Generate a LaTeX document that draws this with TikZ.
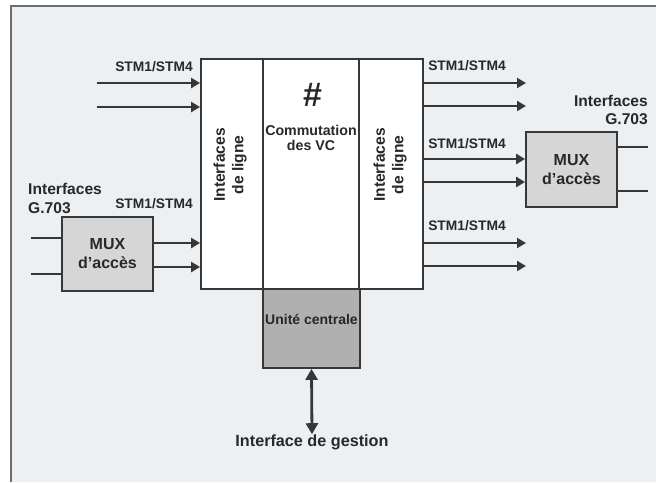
\documentclass[tikz,border=0pt]{standalone}
\usepackage{fontspec}
\setmainfont{Liberation Sans}
\usetikzlibrary{arrows.meta}
\definecolor{bgc}{RGB}{236,240,243}
\definecolor{linec}{RGB}{55,55,55}
\definecolor{muxc}{RGB}{214,214,214}
\definecolor{ucc}{RGB}{176,176,176}
\definecolor{txtc}{RGB}{40,40,40}
\definecolor{framec}{RGB}{110,110,110}
\tikzset{
  blk/.style={draw=linec, line width=1.8pt, inner sep=0pt, anchor=center},
  col/.style={blk, fill=white, minimum height=230pt},
  muxbox/.style={blk, fill=muxc, minimum width=91pt, minimum height=74pt, align=center, font=\fontsize{16}{19}\selectfont\bfseries, text=txtc},
  lbl/.style={text=txtc, inner sep=0pt, font=\fontsize{13.8}{15}\selectfont\bfseries},
  biglbl/.style={text=txtc, inner sep=0pt, font=\fontsize{15.6}{18}\selectfont\bfseries, align=left},
  sig/.style={draw=linec, line width=2.8pt, -{Triangle[length=9pt,width=10pt]}},
  plain/.style={draw=linec, line width=2.8pt},
}
\begin{document}
\begin{tikzpicture}[x=1pt,y=-1pt]
\useasboundingbox (0,0) rectangle (656,482);
\fill[white] (0,0) rectangle (656,482);
\fill[bgc] (11,6) rectangle (656,482);
\draw[framec, line width=1.6pt] (11,482) -- (11,6) -- (656,6);

% main block
\node[col, minimum width=62pt] (lcol) at (232,174) {};
\node[col, minimum width=96pt] (mid) at (311,174) {};
\node[col, minimum width=64pt] (rcol) at (391,174) {};
\node[rotate=90, align=center, text=txtc, inner sep=0pt, font=\fontsize{15.6}{18.5}\selectfont\bfseries] (lt) at (230,165) {Interfaces\\de ligne};
\node[rotate=90, align=center, text=txtc, inner sep=0pt, font=\fontsize{15.6}{18.5}\selectfont\bfseries] (rt) at (390,165) {Interfaces\\de ligne};
\node[text=txtc, inner sep=0pt, font=\fontsize{34}{34}\selectfont\bfseries\itshape] (hash) at (312,95) {\#};
\node[text=txtc, inner sep=0pt, align=center, font=\fontsize{14.2}{15.5}\selectfont\bfseries] (comm) at (311,138) {Commutation\\des VC};

% central unit
\node[blk, fill=ucc, minimum width=97pt, minimum height=79pt] (uc) at (311.5,328.5) {};
\node[text=txtc, inner sep=0pt, font=\fontsize{14}{15}\selectfont\bfseries] (uct) at (311.5,319) {Unité centrale};
\node[biglbl, font=\fontsize{16.2}{18}\selectfont\bfseries] (gest) at (312,442) {Interface de gestion};
\draw[draw=linec, line width=2.8pt, {Triangle[length=11pt,width=12pt]}-{Triangle[length=11pt,width=12pt]}] (uc.south) -- (gest.north);

% left MUX
\node[muxbox] (lmux) at (107.5,254) {MUX\\d’accès};
\node[biglbl, anchor=west] (lg1) at (28,189) {Interfaces};
\node[biglbl, anchor=west] (lg2) at (28,208) {G.703};
\coordinate (li1) at (31,238);
\coordinate (li2) at (31,274);
\draw[plain] (li1) -- (li1 -| lmux.west);
\draw[plain] (li2) -- (li2 -| lmux.west);
\coordinate (lo1) at (153,243);
\coordinate (lo2) at (153,267);
\draw[sig] (lo1) -- (lo1 -| lcol.west);
\draw[sig] (lo2) -- (lo2 -| lcol.west);
\node[lbl] (s4) at (154,204) {STM1/STM4};

% top-left inputs
\coordinate (ti1) at (97,83);
\coordinate (ti2) at (97,107);
\draw[sig] (ti1) -- (ti1 -| lcol.west);
\draw[sig] (ti2) -- (ti2 -| lcol.west);
\node[lbl] (s1) at (154,67) {STM1/STM4};

% right MUX
\node[muxbox, minimum height=75pt] (rmux) at (571.5,169.5) {MUX\\d’accès};
\node[biglbl, anchor=east] (rg1) at (648,101) {Interfaces};
\node[biglbl, anchor=east] (rg2) at (648,119) {G.703};
\coordinate (ro1) at (648,147);
\coordinate (ro2) at (648,191);
\draw[plain] (ro1 -| rmux.east) -- (ro1);
\draw[plain] (ro2 -| rmux.east) -- (ro2);

% right outputs
\coordinate (e1) at (526,83);
\coordinate (e2) at (526,106);
\coordinate (e5) at (526,243);
\coordinate (e6) at (526,266);
\draw[sig] (e1 -| rcol.east) -- (e1);
\draw[sig] (e2 -| rcol.east) -- (e2);
\draw[sig] (rcol.east |- 0,159) -- (rmux.west |- 0,159);
\draw[sig] (rcol.east |- 0,182) -- (rmux.west |- 0,182);
\draw[sig] (e5 -| rcol.east) -- (e5);
\draw[sig] (e6 -| rcol.east) -- (e6);
\node[lbl] (s2) at (467,66) {STM1/STM4};
\node[lbl] (s3) at (467,144) {STM1/STM4};
\node[lbl] (s5) at (467,226) {STM1/STM4};
\end{tikzpicture}
\end{document}
